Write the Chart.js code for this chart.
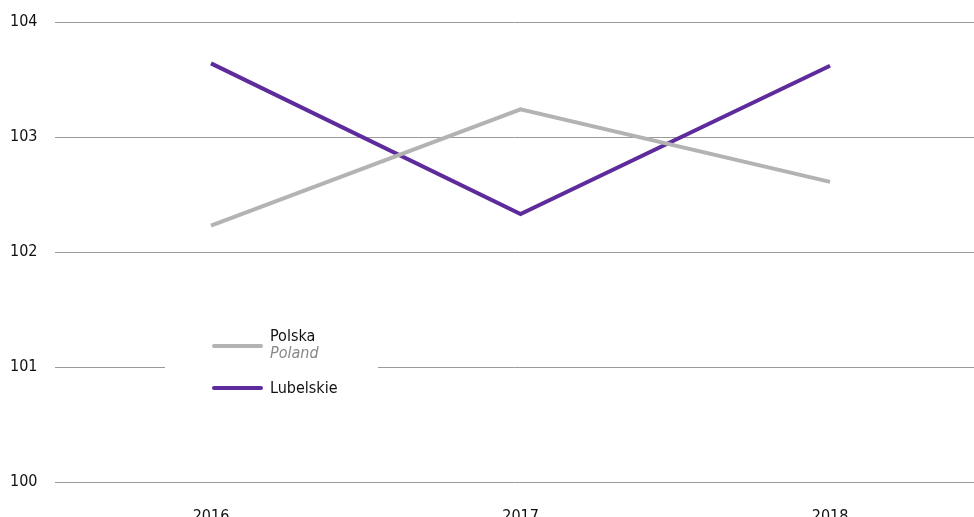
<!DOCTYPE html>
<html>
<head>
<meta charset="utf-8">
<script src="https://cdn.jsdelivr.net/npm/chart.js@4/dist/chart.umd.min.js"></script>
<style>
  html, body { margin: 0; padding: 0; background: #fff; }
  #wrap { width: 974px; height: 517px; position: relative; }
</style>
</head>
<body>
<div id="wrap"><canvas id="c"></canvas></div>
<script>
const YEARS = [2016, 2017, 2018];
const POLSKA = [102.23, 103.24, 102.61];
const LUBELSKIE = [103.64, 102.33, 103.62];
const Y_TICKS = [100, 101, 102, 103, 104];

const FONT = "'Liberation Sans Narrow', 'DejaVu Sans Condensed', sans-serif";
const GRAY = '#b3b3b3';
const PURPLE = '#5e2b9c';

// white-boxed legend drawn over the grid
const legendBox = {
  id: 'legendBox',
  afterDatasetsDraw(chart) {
    const ctx = chart.ctx;
    ctx.save();
    ctx.fillStyle = '#fff';
    ctx.fillRect(165, 320, 213, 85);
    ctx.lineCap = 'round';
    ctx.lineWidth = 4;
    ctx.strokeStyle = GRAY;
    ctx.beginPath(); ctx.moveTo(214, 346); ctx.lineTo(261, 346); ctx.stroke();
    ctx.strokeStyle = PURPLE;
    ctx.beginPath(); ctx.moveTo(214, 388); ctx.lineTo(261, 388); ctx.stroke();
    ctx.textBaseline = 'middle';
    ctx.fillStyle = '#111';
    ctx.font = '16px ' + FONT;
    ctx.fillText('Polska', 270, 337);
    ctx.fillText('Lubelskie', 270, 389);
    ctx.fillStyle = '#888';
    ctx.font = 'italic 16px ' + FONT;
    ctx.fillText('Poland', 270, 354);
    ctx.restore();
  }
};

new Chart(document.getElementById('c'), {
  type: 'line',
  data: {
    datasets: [
      { label: 'Polska', data: YEARS.map((y, i) => ({ x: y, y: POLSKA[i] })),
        borderColor: GRAY, borderWidth: 4, pointRadius: 0, tension: 0 },
      { label: 'Lubelskie', data: YEARS.map((y, i) => ({ x: y, y: LUBELSKIE[i] })),
        borderColor: PURPLE, borderWidth: 4, pointRadius: 0, tension: 0 }
    ]
  },
  options: {
    responsive: true,
    maintainAspectRatio: false,
    animation: false,
    layout: { padding: { top: 22, right: 0, left: 10, bottom: 0 } },
    plugins: { legend: { display: false }, tooltip: { enabled: false } },
    scales: {
      x: {
        type: 'linear', min: 2015.496, max: 2018.465,
        afterBuildTicks: s => { s.ticks = YEARS.map(v => ({ value: v })); },
        afterFit: s => { s.height = 35; },
        grid: { display: false },
        border: { display: false },
        ticks: { color: '#111', font: { family: FONT, size: 16 }, padding: 17,
                 callback: v => String(v), maxRotation: 0 }
      },
      y: {
        min: 100, max: 104,
        afterBuildTicks: s => { s.ticks = Y_TICKS.map(v => ({ value: v })); },
        afterFit: s => { s.width = 45; },
        grid: { color: '#9a9a9a', lineWidth: 1, drawTicks: false },
        border: { display: false },
        ticks: { color: '#111', font: { family: FONT, size: 16 }, padding: 0,
                 crossAlign: 'far' }
      }
    }
  },
  plugins: [legendBox]
});
</script>
</body>
</html>
